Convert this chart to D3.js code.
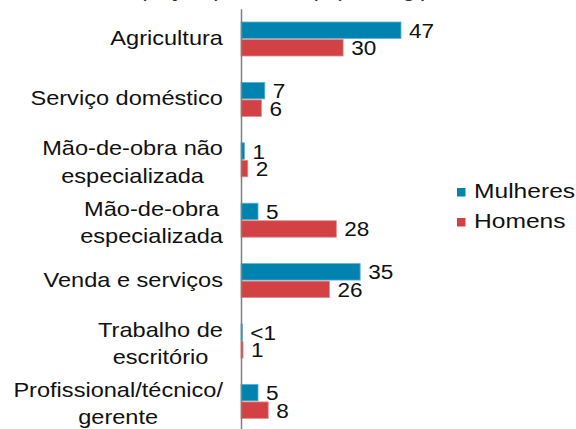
<!DOCTYPE html>
<html>
<head>
<meta charset="utf-8">
<script src="https://cdn.jsdelivr.net/npm/d3@7"></script>
<style>
  body { margin: 0; background: #fff; }
  svg { display: block; font-family: "Liberation Sans", Arial, sans-serif; }
</style>
</head>
<body>
<div class="container"></div>
<script>
const categories = [
    ["Agricultura"],
    ["Serviço doméstico"],
    ["Mão-de-obra não", "especializada"],
    ["Mão-de-obra", "especializada"],
    ["Venda e serviços"],
    ["Trabalho de", "escritório"],
    ["Profissional/técnico/", "gerente"]
];
const series = ["Mulheres", "Homens"];
const mulheres = [47, 7, 1, 5, 35, 0.4, 5];
const homens = [30, 6, 2, 28, 26, 0.6, 8];
const mulheresLabels = ["47", "7", "1", "5", "35", "<1", "5"];
const homensLabels = ["30", "6", "2", "28", "26", "1", "8"];
const colors = ["#0083af", "#d24143"];
const title = "Ocupação por sexo (%) no Egipto";

const width = 576, height = 429,
    stretch = 1.15, fontSize = 20.5;

const svg = d3.select('.container')
    .append('svg')
    .attr('width', width)
    .attr('height', height);

const x = d3.scaleLinear().domain([0, 47]).range([241, 401]);
const y = d3.scaleBand().domain(d3.range(categories.length)).range([8.8, 431.6]);
const yInner = d3.scaleBand().domain(series).range([-17, 17]).paddingInner(0.06);

// title sits above the visible area, only its lowest pixels show
svg.append('text')
    .attr('transform', `translate(278,-3) scale(${stretch},1)`)
    .attr('text-anchor', 'middle')
    .attr('font-size', fontSize)
    .attr('font-style', 'italic')
    .attr('fill', '#333')
    .text(title);

const rows = categories.map((c, i) => ({
    lines: c, i,
    vals: [mulheres[i], homens[i]],
    labs: [mulheresLabels[i], homensLabels[i]]
}));

const bars = [];
rows.forEach(r => series.forEach((s, k) => bars.push({i: r.i, s, k, v: r.vals[k], lab: r.labs[k]})));

const center = i => y(i) + y.bandwidth() / 2;

svg.selectAll('.bar')
    .data(bars)
    .enter()
    .append('rect')
    .attr('class', 'bar')
    .attr('x', x(0))
    .attr('y', d => center(d.i) + yInner(d.s))
    .attr('width', d => x(d.v) - x(0))
    .attr('height', yInner.bandwidth())
    .attr('fill', d => colors[d.k])
    .attr('stroke', d => d.k === 0 ? '#5cb3d3' : '#e68a8b')
    .attr('stroke-width', 0.8);

svg.selectAll('.val')
    .data(bars)
    .enter()
    .append('text')
    .attr('class', 'val')
    .attr('transform', d => `translate(${x(d.v) + 8},${center(d.i) + yInner(d.s) + yInner.bandwidth() / 2 + 7.5}) scale(1.1,1)`)
    .attr('font-size', fontSize)
    .attr('fill', '#111')
    .text(d => d.lab);

// vertical axis line
const axis = svg.append('g')
    .attr('transform', `translate(${x(0)},0)`)
    .call(d3.axisLeft(y).tickSize(0).tickSizeOuter(0).tickFormat(''));
axis.select('.domain').attr('stroke', '#7f7f7f').attr('stroke-width', 1.5);

// category labels, multi-line centred within a right-aligned block
const labelRight = 223;
rows.forEach(r => {
    const g = svg.append('g');
    const texts = r.lines.map(line => g.append('text')
        .attr('font-size', fontSize)
        .attr('fill', '#111')
        .attr('text-anchor', 'middle')
        .text(line));
    const maxW = d3.max(texts, t => t.node().getComputedTextLength()) * stretch;
    const cx = labelRight - maxW / 2;
    const c = center(r.i);
    texts.forEach((t, j) => {
        const base = r.lines.length === 1 ? c + 6 : c - 4.5 + j * 27.5;
        t.attr('transform', `translate(${cx},${base}) scale(${stretch},1)`);
    });
});

// legend
const legend = svg.selectAll('.legend')
    .data(series)
    .enter()
    .append('g')
    .attr('class', 'legend')
    .attr('transform', (d, k) => `translate(457,${188 + k * 30})`);
legend.append('rect')
    .attr('width', 8.5)
    .attr('height', 8.5)
    .attr('fill', (d, k) => colors[k]);
legend.append('text')
    .attr('transform', `translate(17,9.5) scale(1.2,1)`)
    .attr('font-size', fontSize)
    .attr('fill', '#111')
    .text(d => d);
</script>
</body>
</html>
